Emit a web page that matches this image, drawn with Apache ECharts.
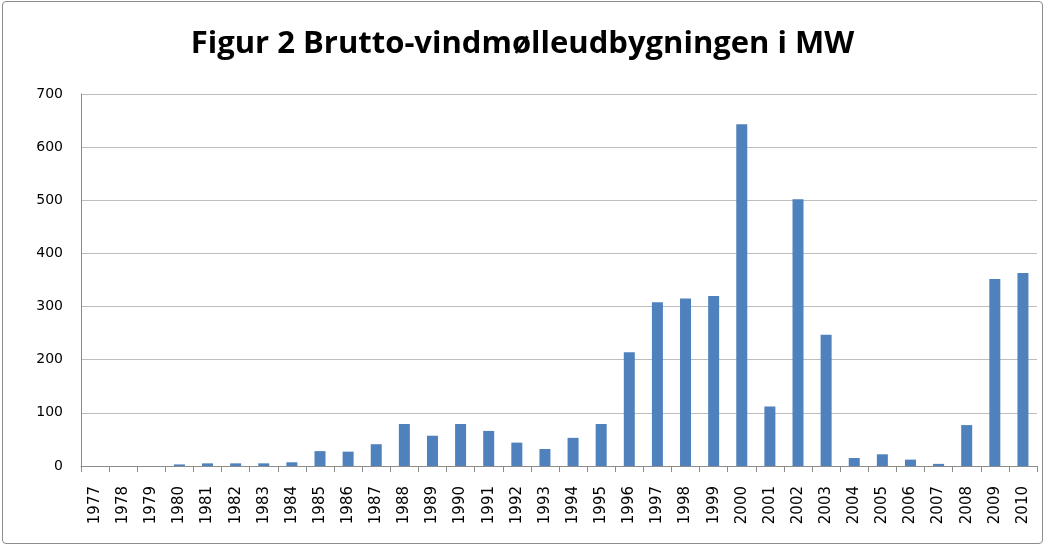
<!DOCTYPE html>
<html>
<head>
<meta charset="utf-8">
<script src="https://cdn.jsdelivr.net/npm/echarts@6/dist/echarts.min.js"></script>
<style>
  html, body { margin: 0; padding: 0; background: #fff; }
  #chart { position: absolute; left: 2px; top: 1px; width: 1041px; height: 543px;
           border: 1px solid #8c8c8c; border-radius: 4px; box-sizing: border-box; }
</style>
</head>
<body>
<div id="chart"></div>
<script>
// aar og udbygning i MW
var years = ['1977','1978','1979','1980','1981','1982','1983','1984','1985','1986',
  '1987','1988','1989','1990','1991','1992','1993','1994','1995','1996',
  '1997','1998','1999','2000','2001','2002','2003','2004','2005','2006',
  '2007','2008','2009','2010'];
var mw = [0, 0, 0, 3, 5, 5, 5, 7, 28, 27,
  41, 79, 57, 79, 66, 44, 32, 53, 79, 214,
  308, 315, 320, 643, 112, 502, 247, 15, 22, 12,
  4, 77, 352, 363];

var chart = echarts.init(document.getElementById('chart'));

var option = {
  animation: false,
  title: {
    text: 'Figur 2 Brutto-vindmølleudbygningen i MW',
    left: 'center',
    top: 22,
    textStyle: { fontFamily: 'Open Sans', fontSize: 31, fontWeight: 'bold', color: '#000' }
  },
  grid: { left: 78, right: 5, top: 92, bottom: 77 },
  xAxis: {
    type: 'category',
    data: years,
    axisLine: { lineStyle: { color: '#8c8c8c' } },
    axisTick: { show: true, length: 6, lineStyle: { color: '#8c8c8c' } },
    axisLabel: { rotate: 90, fontSize: 15, color: '#000', fontFamily: 'DejaVu Sans', margin: 20 }
  },
  yAxis: {
    type: 'value',
    min: 0,
    max: 700,
    interval: 100,
    axisLine: { show: true, lineStyle: { color: '#8c8c8c' } },
    axisTick: { show: false },
    axisLabel: { fontSize: 14, color: '#000', fontFamily: 'DejaVu Sans', margin: 18 },
    splitLine: { lineStyle: { color: '#bdbdbd', width: 1 } }
  },
  series: [{
    type: 'bar',
    data: mw,
    barWidth: 11,
    itemStyle: { color: '#4f81bd' }
  }]
};

chart.setOption(option);
</script>
</body>
</html>
